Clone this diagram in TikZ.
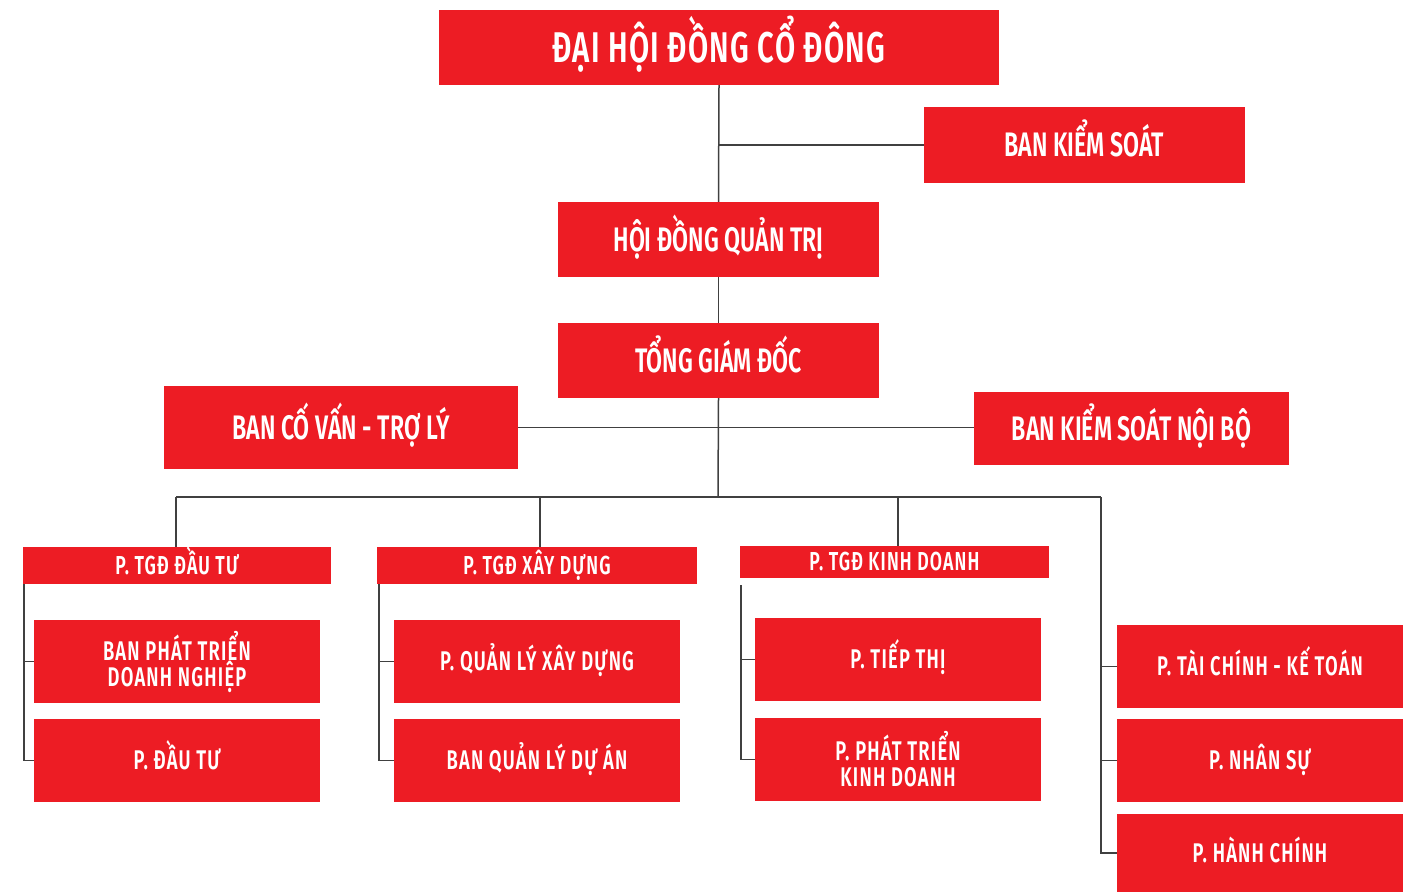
\documentclass[tikz,border=0pt]{standalone}
\usepackage{fontspec}
\setmainfont{Fira Sans}[FakeStretch=0.68, BoldFont={Fira Sans SemiBold}]
\newfontfamily\titlefont{Fira Sans SemiBold}[FakeStretch=0.68, LetterSpace=3]
\newfontfamily\lvlfont{Fira Sans SemiBold}[FakeStretch=0.68]
\newfontfamily\subfont{Fira Sans SemiBold}[FakeStretch=0.68, LetterSpace=4.5]
\definecolor{boxred}{HTML}{ED1C24}
\definecolor{linegray}{HTML}{404040}
\begin{document}
\begin{tikzpicture}[x=1pt,y=-1pt,
  box/.style={fill=boxred, text=white, inner sep=0pt, align=center, text depth=0pt},
  lvl0/.style={box, text height=29.6pt, font=\titlefont\fontsize{43}{46}\selectfont},
  lvl1/.style={box, text height=23.4pt, font=\lvlfont\fontsize{34}{38}\selectfont},
  hdr/.style={box, text height=17.8pt, font=\subfont\fontsize{26}{28}\selectfont},
  sub/.style={fill=boxred, text=white, inner sep=0pt, align=center, font=\subfont\fontsize{27}{28}\selectfont},
  sub1/.style={box, text height=18.6pt, font=\subfont\fontsize{27}{28}\selectfont},
  conn/.style={draw=linegray, line width=1.5pt}]
\useasboundingbox (0,0) rectangle (1415,892);
% top levels
\node[lvl0, minimum width=560, minimum height=75] (dhd) at (719,47.5) {ĐẠI HỘI ĐỒNG CỔ ĐÔNG};
\node[lvl1, minimum width=321, minimum height=76] (bks) at (1084.5,145) {BAN KIỂM SOÁT};
\node[lvl1, minimum width=321, minimum height=75] (hdqt) at (718.5,239.5) {HỘI ĐỒNG QUẢN TRỊ};
\node[lvl1, minimum width=321, minimum height=75] (tgd) at (718.5,360.5) {TỔNG GIÁM ĐỐC};
\node[lvl1, minimum width=354, minimum height=83] (bcv) at (341,427.5) {BAN CỐ VẤN - TRỢ LÝ};
\node[lvl1, minimum width=315, minimum height=73] (bksnb) at (1131.5,428.5) {BAN KIỂM SOÁT NỘI BỘ};
% headers
\node[hdr, minimum width=308, minimum height=37] (h1) at (177,565.5) {P. TGĐ ĐẦU TƯ};
\node[hdr, minimum width=320, minimum height=37] (h2) at (537,565.5) {P. TGĐ XÂY DỰNG};
\node[hdr, minimum width=309, minimum height=32] (h3) at (894.5,562) {P. TGĐ KINH DOANH};
% sub boxes
\node[sub, minimum width=286, minimum height=83] (s11) at (177,661.5) {BAN PHÁT TRIỂN\\[-2pt]DOANH NGHIỆP};
\node[sub1, minimum width=286, minimum height=83] (s12) at (177,760.5) {P. ĐẦU TƯ};
\node[sub1, minimum width=286, minimum height=83] (s21) at (537,661.5) {P. QUẢN LÝ XÂY DỰNG};
\node[sub1, minimum width=286, minimum height=83] (s22) at (537,760.5) {BAN QUẢN LÝ DỰ ÁN};
\node[sub1, minimum width=286, minimum height=83] (s31) at (898,659.5) {P. TIẾP THỊ};
\node[sub, minimum width=286, minimum height=83] (s32) at (898,759.5) {P. PHÁT TRIỂN\\[-2pt]KINH DOANH};
\node[sub1, minimum width=286, minimum height=83] (s41) at (1260,666.5) {P. TÀI CHÍNH - KẾ TOÁN};
\node[sub1, minimum width=286, minimum height=83] (s42) at (1260,760.5) {P. NHÂN SỰ};
\node[sub1, minimum width=286, minimum height=78] (s43) at (1260,853) {P. HÀNH CHÍNH};
% bus coordinates
\coordinate (busL) at (176,497);
\coordinate (busM) at (718,497);
\coordinate (busR) at (1101,497);
% connectors
\draw[conn] (dhd.south) -- (hdqt.north);
\draw[conn] (bks.west) -- (bks.west -| dhd.south);
\draw[conn] (hdqt.south) -- (tgd.north);
\draw[conn] (tgd.south) -- (busM);
\draw[conn] (bcv.east) -- (bcv.east -| bksnb.west);
\draw[conn] (busL) -- (busR);
\draw[conn] (busL) -- (busL |- h1.north);
\draw[conn] (h2.north -| 540,0) -- (540,497);
\draw[conn] (h3.north -| 898,0) -- (898,497);
% column brackets
\draw[conn] ([xshift=1pt]h1.south west) -- ([xshift=1pt]h1.south west |- s12.west) -- (s12.west);
\draw[conn] ([xshift=1pt]h1.south west |- s11.west) -- (s11.west);
\draw[conn] ([xshift=2pt]h2.south west) -- ([xshift=2pt]h2.south west |- s22.west) -- (s22.west);
\draw[conn] ([xshift=2pt]h2.south west |- s21.west) -- (s21.west);
\draw[conn] ([xshift=1pt,yshift=-7pt]h3.south west) -- ([xshift=1pt]h3.south west |- s32.west) -- (s32.west);
\draw[conn] ([xshift=1pt]h3.south west |- s31.west) -- (s31.west);
\draw[conn] (busR) -- (busR |- s43.west) -- (s43.west);
\draw[conn] (busR |- s41.west) -- (s41.west);
\draw[conn] (busR |- s42.west) -- (s42.west);
\end{tikzpicture}
\end{document}
